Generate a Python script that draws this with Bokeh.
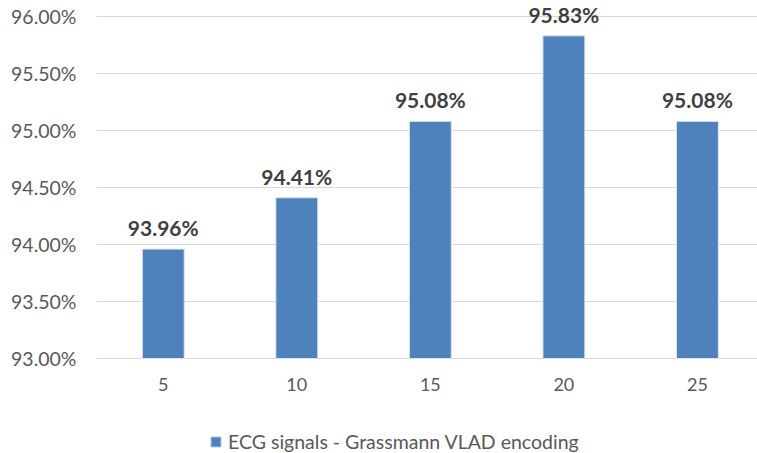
from bokeh.plotting import figure
from bokeh.models import Range1d, FixedTicker, NumeralTickFormatter, ColumnDataSource, LabelSet, Legend, LegendItem
from bokeh.core.properties import value
from bokeh.embed import file_html
from bokeh.resources import INLINE

categories = ["5", "10", "15", "20", "25"]
values = [93.96, 94.41, 95.08, 95.83, 95.08]
labels = ["93.96%", "94.41%", "95.08%", "95.83%", "95.08%"]
series_name = "ECG signals - Grassmann VLAD encoding"
y_ticks = [0.93, 0.935, 0.94, 0.945, 0.95, 0.955, 0.96]

xs = [float(c) for c in categories]
base = y_ticks[0]
src = ColumnDataSource(dict(x=xs, top=[v / 100 for v in values], lab=labels,
                            base=[base] * len(xs), cat=categories))

p = figure(width=757, height=453, output_backend="svg", toolbar_location=None,
           x_range=Range1d(2.5, 27.25), y_range=Range1d(0.92167, 0.9614),
           min_border_left=96, min_border_right=0, min_border_top=0, min_border_bottom=0)
p.outline_line_color = None
p.background_fill_color = "white"

r = p.vbar(x="x", top="top", bottom=base, width=1.57, source=src,
           fill_color="#4F81BD", line_color="#DCE6F2", line_width=1)

lbl = LabelSet(x="x", y="top", text="lab", source=src, text_align="center",
               text_baseline="alphabetic", y_offset=13, text_font=value("Lato"),
               text_font_style="bold", text_font_size="21px", text_color="#404040")
p.add_layout(lbl)

xlbl = LabelSet(x="x", y="base", text="cat", source=src, text_align="center",
                text_baseline="top", y_offset=-19, text_font=value("Lato"),
                text_font_size="18px", text_color="#595959")
p.add_layout(xlbl)

p.xaxis.visible = False
p.yaxis.ticker = FixedTicker(ticks=y_ticks)
p.yaxis.formatter = NumeralTickFormatter(format="0.00%")
p.yaxis.axis_line_color = None
p.yaxis.major_tick_line_color = None
p.yaxis.minor_tick_line_color = None
p.yaxis.major_label_text_font = "Lato"
p.yaxis.major_label_text_font_size = "19.5px"
p.yaxis.major_label_text_color = "#595959"
p.yaxis.major_label_standoff = 14
p.xgrid.grid_line_color = None
p.ygrid.ticker = FixedTicker(ticks=y_ticks)
p.ygrid.grid_line_color = "#D9D9D9"
p.ygrid.grid_line_width = 1

legend = Legend(items=[LegendItem(label=series_name, renderers=[r])],
                location=(113, 0), orientation="horizontal",
                label_text_font="Lato", label_text_font_size="19.5px",
                label_text_color="#595959", glyph_width=13, glyph_height=13,
                border_line_color=None, background_fill_alpha=0, padding=0, margin=0,
                label_standoff=6)
p.add_layout(legend, "center")

open("out.html", "w").write(file_html(p, INLINE))
